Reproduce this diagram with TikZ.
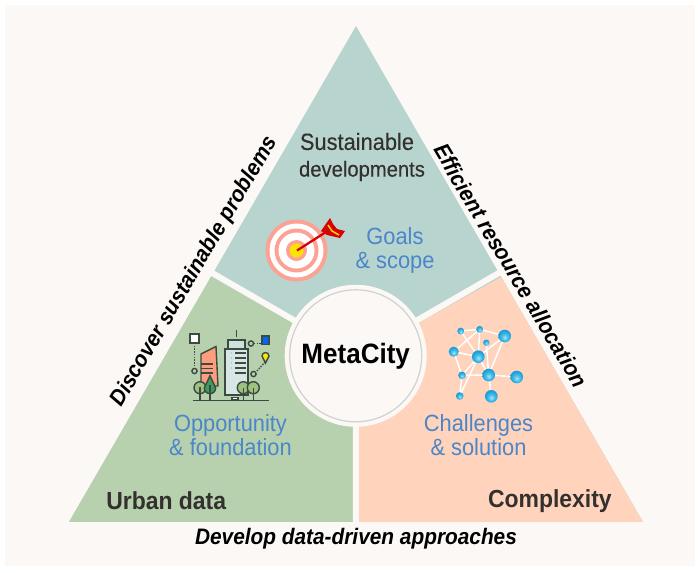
\documentclass[tikz,border=0pt]{standalone}
\usepackage{fontspec}
\setmainfont[FakeStretch=0.93]{Liberation Sans}
\newfontfamily\medfont[FakeStretch=0.93,FakeBold=0.25]{Liberation Sans}
\definecolor{pagebg}{HTML}{FCF8F5}
\definecolor{topc}{HTML}{B8D4CF}
\definecolor{leftc}{HTML}{B7D1AE}
\definecolor{rightc}{HTML}{FFD3BC}
\definecolor{bluet}{HTML}{4A86C8}
\definecolor{darkt}{HTML}{33302E}
\definecolor{salmon}{HTML}{FBA294}
\definecolor{iconl}{HTML}{3C4A42}
\definecolor{ballin}{HTML}{A8E8FA}
\definecolor{ballmid}{HTML}{45BEEA}
\definecolor{ballout}{HTML}{1E9ED6}
\definecolor{treec}{HTML}{9CC27E}
\definecolor{pinec}{HTML}{3E9B5F}
\pgfdeclareradialshading{ballsh}{\pgfpoint{0bp}{-6bp}}{color(0bp)=(ballin); color(12bp)=(ballmid); color(25bp)=(ballout); color(50bp)=(ballout)}
\tikzset{
  gap/.style={draw=pagebg,line width=4.5pt},
  lab/.style={inner sep=0pt,align=center,text=bluet,font=\fontsize{17.6}{18}\selectfont},
  sectitle/.style={inner sep=0pt,align=center,text=darkt,font=\medfont\fontsize{16.3}{20}\selectfont},
  cornertitle/.style={inner sep=0pt,text=darkt,font=\fontsize{18.5}{22}\selectfont\bfseries},
  sidelab/.style={inner sep=0pt,text=black,font=\fontsize{16.8}{20}\selectfont\bfseries\itshape},
  ball/.style={circle,inner sep=0pt,minimum size=#1*0.95pt,draw=none,shading=ballsh},
  netline/.style={draw=white,line width=1.1pt},
  il/.style={draw=iconl,line width=1.05pt},
}
\begin{document}
\begin{tikzpicture}[x=0.75pt,y=-0.75pt]
\useasboundingbox (0,0) rectangle (699,572);
\fill[white] (0,0) rectangle (699,572);
\fill[pagebg] (5,5) rectangle (695,566);
% sectors
\fill[topc] (356,26) -- (643,522) -- (69,522) -- cycle;
\fill[leftc] (211,277) -- (356,358) -- (356,522) -- (69,522) -- cycle;
\fill[rightc] (501,277) -- (356,358) -- (356,522) -- (643,522) -- cycle;
\coordinate (hub) at (355.7,355.8);
\coordinate (gl) at (207,270);
\coordinate (gr) at (504,270);
\coordinate (gb) at (356,526);
\draw[gap] (hub) -- (gl);
\draw[gap] (hub) -- (gr);
\draw[gap] (hub) -- (gb);
\fill[pagebg] (69,522) rectangle (643,526);
% centre
\node[circle,fill=pagebg,minimum size=106.5pt,inner sep=0pt] (disc) at (hub) {};
\node[circle,draw=black!18,line width=0.9pt,minimum size=99pt,inner sep=0pt,font=\fontsize{21}{25}\selectfont\bfseries,text=black] (core) at (hub) {MetaCity};
% target
\fill[salmon] (296.5,250.5) circle[radius=31];
\fill[white] (296.5,250.5) circle[radius=27];
\fill[salmon] (296.5,250.5) circle[radius=22];
\fill[white] (296.5,250.5) circle[radius=18];
\fill[salmon] (296.5,250.5) circle[radius=10.5];
\fill[yellow!85!orange] (296.5,250.5) circle[radius=7];
\draw[red!85!black,line width=1.7pt] (297,250.5) -- (326,232);
\fill[red!85!black] (321,231) -- (330,218) -- (333,224) -- (337,229) -- (345,231) -- (340,238) -- (327,235) -- cycle;
\draw[yellow!85!orange,line width=1.1pt] (328,225) -- (332,231) -- (339,235);
% city
\draw[il,fill=white] (190,334) rectangle (199,343);
\draw[il,densely dotted] (194.5,343) -- (194.5,367);
\draw[il,fill=leftc] (194.5,371) circle[radius=2.6];
\draw[il,fill=salmon!85!orange] (201,354) -- (216,346.5) -- (218,386) -- (201,386) -- cycle;
\draw[il] (201,364) -- (213,364) (201,368.5) -- (213,368.5) (201,373) -- (213,373);
\draw[il,fill=topc!55!white] (225,349) rectangle (248,395);
\draw[il,fill=topc!70!white] (228,340) rectangle (245,349);
\draw[il] (236.5,330) -- (236.5,337);
\draw[il] (235,353) -- (246,353) (235,358) -- (246,358) (235,363) -- (246,363) (235,368) -- (246,368) (235,373) -- (246,373);
\fill[bluet!50!white] (231.5,353) circle[radius=.8] (231.5,358) circle[radius=.8] (231.5,363) circle[radius=.8] (231.5,368) circle[radius=.8];
\draw[il] (251,343.5) circle[radius=2.6];
\draw[il,densely dotted] (254,343.5) -- (261,343.5);
\draw[il,fill=blue!60!cyan] (262,336) rectangle (269,344.5);
\draw[il,densely dotted] (257,371) -- (265,362);
\draw[il] (253.5,374) circle[radius=2.6];
\draw[il,fill=yellow!90!orange] (265.5,363) -- (262,356) arc[start angle=180,end angle=360,radius=3.5] -- cycle;
\draw[il,fill=treec] (200,387.7) circle[radius=6];
\draw[il] (200,387) -- (200,400);
\draw[il,fill=pinec] (210,375.7) -- (215.7,388) arc[start angle=0,end angle=180,radius=5.7] -- cycle;
\draw[il] (210,385) -- (210,400);
\draw[il,fill=treec] (243.3,387.7) circle[radius=6];
\draw[il] (243.3,388) -- (243.3,400);
\draw[il,fill=treec] (253.3,387.7) circle[radius=6];
\draw[il] (253.3,388) -- (253.3,400);
\draw[il,fill=white] (232,397.5) rectangle (238,400);
\draw[il,line width=1.2pt] (192.5,400.5) -- (269,400.5);
% network
\coordinate (n1) at (460.7,331);
\coordinate (n2) at (479.7,329.3);
\coordinate (n3) at (504.7,336);
\coordinate (n4) at (486.3,342.7);
\coordinate (n5) at (453.7,351.7);
\coordinate (n6) at (478.3,356.7);
\coordinate (n7) at (462,375.3);
\coordinate (n8) at (488.7,375);
\coordinate (n9) at (516.7,377);
\coordinate (n10) at (459.7,396);
\coordinate (n11) at (491.3,396.3);
\draw[netline] (n1)--(n2) (n2)--(n3) (n1)--(n6) (n2)--(n5) (n2)--(n6) (n3)--(n6) (n3)--(n8) (n4)--(n8) (n5)--(n6) (n5)--(n7) (n6)--(n7) (n6)--(n8) (n6)--(n10) (n7)--(n8) (n7)--(n10) (n8)--(n9) (n8)--(n11);
\node[ball=5.4] (b1) at (n1) {};
\node[ball=5.4] (b2) at (n2) {};
\node[ball=10] (b3) at (n3) {};
\node[ball=5] (b4) at (n4) {};
\node[ball=8] (b5) at (n5) {};
\node[ball=10] (b6) at (n6) {};
\node[ball=6] (b7) at (n7) {};
\node[ball=10] (b8) at (n8) {};
\node[ball=10] (b9) at (n9) {};
\node[ball=6] (b10) at (n10) {};
\node[ball=10] (b11) at (n11) {};
% text
\node[sectitle] (t1) at (362,157) {{\fontsize{17.6}{20}\selectfont Sustainable\hspace*{7.5pt}}\\developments};
\node[lab] (l1) at (395,250) {Goals\\\& scope};
\node[lab] (l2) at (230.5,435) {Opportunity\\\& foundation};
\node[lab] (l3) at (478.5,435.5) {Challenges\\\& solution};
\node[cornertitle,anchor=west] (c1) at (106,501) {Urban data};
\node[cornertitle,anchor=east] (c2) at (612,501) {Complexity};
\node[sidelab,rotate=59.6] (s1) at (194.5,271.5) {Discover sustainable problems};
\node[sidelab,rotate=-59.3] (s2) at (511,265.5) {Efficient resource allocation};
\node[sidelab] (s3) at (356,539) {Develop data-driven approaches};
\end{tikzpicture}
\end{document}
